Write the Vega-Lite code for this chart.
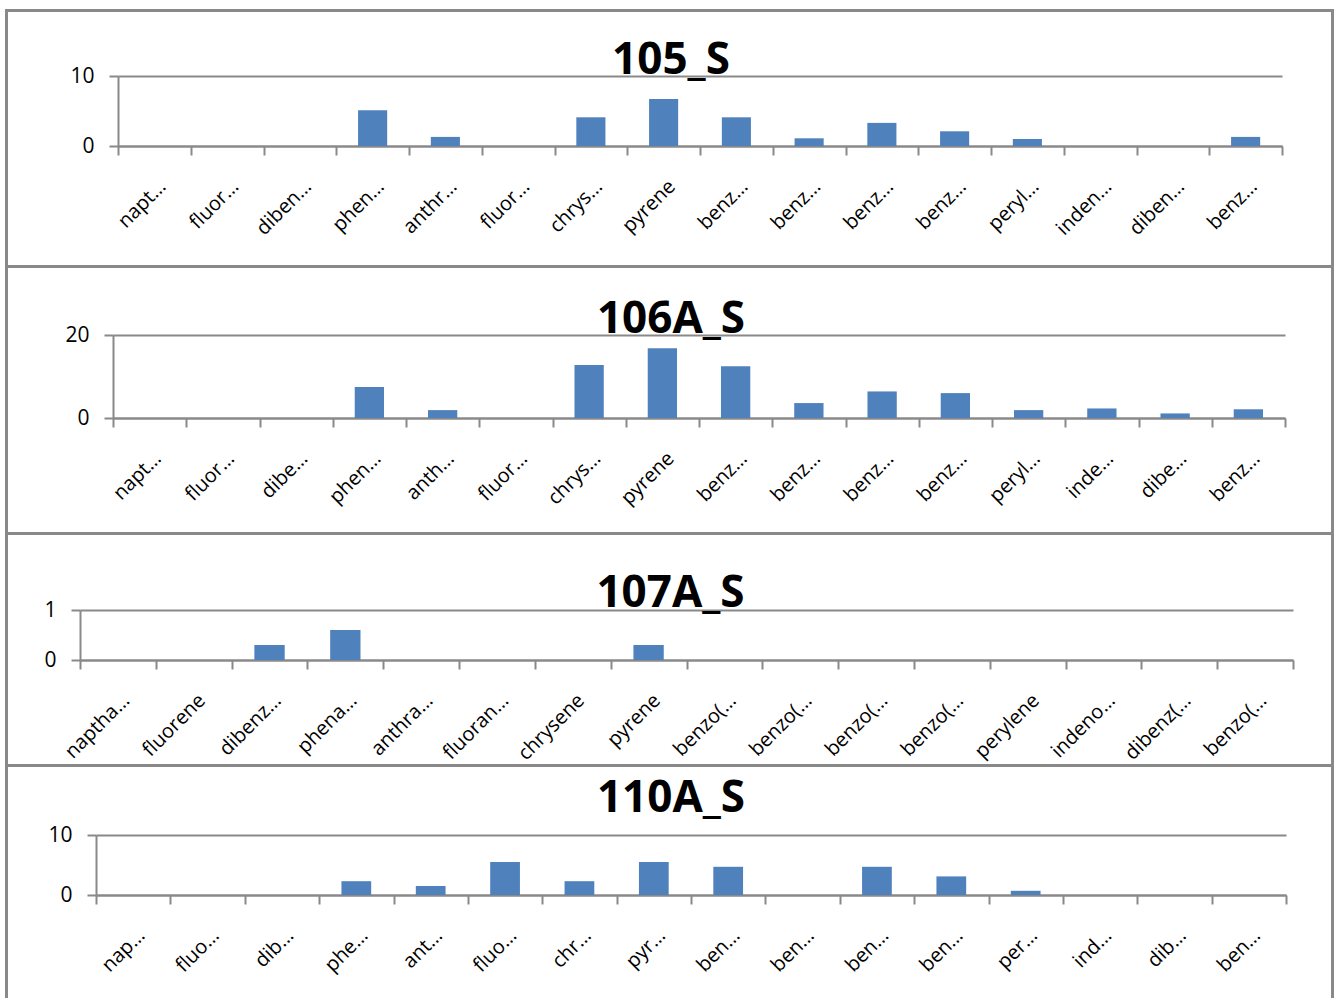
{
  "$schema": "https://vega.github.io/schema/vega-lite/v6.json",
  "padding": {"left": 5, "top": 9, "right": 0, "bottom": 0},
  "background": "white",
  "spacing": 0,
  "config": {
    "view": {"stroke": null},
    "font": "Open Sans",
    "axis": {"domainColor": "#898989", "domainWidth": 2, "tickColor": "#898989", "tickWidth": 2, "gridColor": "#898989", "gridWidth": 2, "labelColor": "#000000", "labelFontSize": 20, "labelFont": "Open Sans", "title": null},
    "axisX": {"labelAngle": -45, "labelAlign": "right", "labelBaseline": "middle", "tickBand": "extent", "tickSize": 9, "labelPadding": 28, "labelOffset": 8, "grid": false, "labelOverlap": false, "labelFlush": false},
    "axisY": {"tickSize": 9, "labelPadding": 15, "grid": true, "labelFontSize": 21, "format": "d"},
    "title": {"font": "Open Sans", "fontSize": 44, "fontWeight": "bold", "color": "#000000", "anchor": "middle", "baseline": "alphabetic"},
    "bar": {"color": "#4F81BD", "width": {"band": 0.4}},
    "scale": {"bandPaddingInner": 0, "bandPaddingOuter": 0},
    "concat": {"spacing": 0}
  },
  "data": {"values": [
    {"sample": "105_S", "compound": "napthalene", "value": 0},
    {"sample": "105_S", "compound": "fluorene", "value": 0},
    {"sample": "105_S", "compound": "dibenzofuran", "value": 0},
    {"sample": "105_S", "compound": "phenanthrene", "value": 5.1},
    {"sample": "105_S", "compound": "anthracene", "value": 1.3},
    {"sample": "105_S", "compound": "fluoranthene", "value": 0},
    {"sample": "105_S", "compound": "chrysene", "value": 4.1},
    {"sample": "105_S", "compound": "pyrene", "value": 6.7},
    {"sample": "105_S", "compound": "benzo(a)anthracene", "value": 4.1},
    {"sample": "105_S", "compound": "benzo(b)fluoranthene", "value": 1.1},
    {"sample": "105_S", "compound": "benzo(k)fluoranthene", "value": 3.3},
    {"sample": "105_S", "compound": "benzo(a)pyrene", "value": 2.1},
    {"sample": "105_S", "compound": "perylene", "value": 1.0},
    {"sample": "105_S", "compound": "indeno(1,2,3-cd)pyrene", "value": 0},
    {"sample": "105_S", "compound": "dibenz(a,h)anthracene", "value": 0},
    {"sample": "105_S", "compound": "benzo(g,h,i)perylene", "value": 1.3},
    {"sample": "106A_S", "compound": "napthalene", "value": 0},
    {"sample": "106A_S", "compound": "fluorene", "value": 0},
    {"sample": "106A_S", "compound": "dibenzofuran", "value": 0},
    {"sample": "106A_S", "compound": "phenanthrene", "value": 7.5},
    {"sample": "106A_S", "compound": "anthracene", "value": 1.9},
    {"sample": "106A_S", "compound": "fluoranthene", "value": 0},
    {"sample": "106A_S", "compound": "chrysene", "value": 12.8},
    {"sample": "106A_S", "compound": "pyrene", "value": 16.8},
    {"sample": "106A_S", "compound": "benzo(a)anthracene", "value": 12.5},
    {"sample": "106A_S", "compound": "benzo(b)fluoranthene", "value": 3.6},
    {"sample": "106A_S", "compound": "benzo(k)fluoranthene", "value": 6.4},
    {"sample": "106A_S", "compound": "benzo(a)pyrene", "value": 6.0},
    {"sample": "106A_S", "compound": "perylene", "value": 1.9},
    {"sample": "106A_S", "compound": "indeno(1,2,3-cd)pyrene", "value": 2.3},
    {"sample": "106A_S", "compound": "dibenz(a,h)anthracene", "value": 1.1},
    {"sample": "106A_S", "compound": "benzo(g,h,i)perylene", "value": 2.1},
    {"sample": "107A_S", "compound": "napthalene", "value": 0},
    {"sample": "107A_S", "compound": "fluorene", "value": 0},
    {"sample": "107A_S", "compound": "dibenzofuran", "value": 0.3},
    {"sample": "107A_S", "compound": "phenanthrene", "value": 0.6},
    {"sample": "107A_S", "compound": "anthracene", "value": 0},
    {"sample": "107A_S", "compound": "fluoranthene", "value": 0},
    {"sample": "107A_S", "compound": "chrysene", "value": 0},
    {"sample": "107A_S", "compound": "pyrene", "value": 0.3},
    {"sample": "107A_S", "compound": "benzo(a)anthracene", "value": 0},
    {"sample": "107A_S", "compound": "benzo(b)fluoranthene", "value": 0},
    {"sample": "107A_S", "compound": "benzo(k)fluoranthene", "value": 0},
    {"sample": "107A_S", "compound": "benzo(a)pyrene", "value": 0},
    {"sample": "107A_S", "compound": "perylene", "value": 0},
    {"sample": "107A_S", "compound": "indeno(1,2,3-cd)pyrene", "value": 0},
    {"sample": "107A_S", "compound": "dibenz(a,h)anthracene", "value": 0},
    {"sample": "107A_S", "compound": "benzo(g,h,i)perylene", "value": 0},
    {"sample": "110A_S", "compound": "napthalene", "value": 0},
    {"sample": "110A_S", "compound": "fluorene", "value": 0},
    {"sample": "110A_S", "compound": "dibenzofuran", "value": 0},
    {"sample": "110A_S", "compound": "phenanthrene", "value": 2.3},
    {"sample": "110A_S", "compound": "anthracene", "value": 1.5},
    {"sample": "110A_S", "compound": "fluoranthene", "value": 5.5},
    {"sample": "110A_S", "compound": "chrysene", "value": 2.3},
    {"sample": "110A_S", "compound": "pyrene", "value": 5.5},
    {"sample": "110A_S", "compound": "benzo(a)anthracene", "value": 4.7},
    {"sample": "110A_S", "compound": "benzo(b)fluoranthene", "value": 0},
    {"sample": "110A_S", "compound": "benzo(k)fluoranthene", "value": 4.7},
    {"sample": "110A_S", "compound": "benzo(a)pyrene", "value": 3.1},
    {"sample": "110A_S", "compound": "perylene", "value": 0.7},
    {"sample": "110A_S", "compound": "indeno(1,2,3-cd)pyrene", "value": 0},
    {"sample": "110A_S", "compound": "dibenz(a,h)anthracene", "value": 0},
    {"sample": "110A_S", "compound": "benzo(g,h,i)perylene", "value": 0}
  ]},
  "hconcat": [
    {"width": 1, "height": 990, "data": {"values": []}, "mark": "point", "encoding": {}, "view": {"stroke": "#898989", "strokeWidth": 2}},
    {"vconcat": [
      {"width": 1321, "height": 1, "data": {"values": []}, "mark": "point", "encoding": {}, "view": {"stroke": "#898989", "strokeWidth": 2}},
      {"width": 1, "height": 27, "data": {"values": []}, "mark": "point", "encoding": {}},
      {"hconcat": [
        {"width": 49, "height": 10, "data": {"values": []}, "mark": "point", "encoding": {}},
        {
        "title": {"text": "105_S", "dx": -29, "offset": -18},
        "width": 1164, "height": 70,
        "transform": [{"filter": "datum.sample === '105_S'"}],
        "mark": {"type": "bar"},
        "encoding": {
          "x": {"field": "compound", "type": "nominal", "sort": null, "axis": {"labelLimit": 69.5, "minExtent": 119, "maxExtent": 119}},
          "y": {"field": "value", "type": "quantitative", "scale": {"domain": [0, 10]}, "axis": {"values": [0, 10], "minExtent": 60, "maxExtent": 60}}
        }
      }]},
      {"width": 1321, "height": 1, "data": {"values": []}, "mark": "point", "encoding": {}, "view": {"stroke": "#898989", "strokeWidth": 2}},
      {"width": 1, "height": 30, "data": {"values": []}, "mark": "point", "encoding": {}},
      {"hconcat": [
        {"width": 44, "height": 10, "data": {"values": []}, "mark": "point", "encoding": {}},
        {
        "title": {"text": "106A_S", "dx": -28, "offset": -18},
        "width": 1172, "height": 83,
        "transform": [{"filter": "datum.sample === '106A_S'"}],
        "mark": {"type": "bar"},
        "encoding": {
          "x": {"field": "compound", "type": "nominal", "sort": null, "axis": {"labelLimit": 65.4, "minExtent": 114, "maxExtent": 114}},
          "y": {"field": "value", "type": "quantitative", "scale": {"domain": [0, 20]}, "axis": {"values": [0, 20], "minExtent": 60, "maxExtent": 60}}
        }
      }]},
      {"width": 1321, "height": 1, "data": {"values": []}, "mark": "point", "encoding": {}, "view": {"stroke": "#898989", "strokeWidth": 2}},
      {"width": 1, "height": 37, "data": {"values": []}, "mark": "point", "encoding": {}},
      {"hconcat": [
        {"width": 11, "height": 10, "data": {"values": []}, "mark": "point", "encoding": {}},
        {
        "title": {"text": "107A_S", "dx": -16, "offset": -17},
        "width": 1213, "height": 50,
        "transform": [{"filter": "datum.sample === '107A_S'"}],
        "mark": {"type": "bar"},
        "encoding": {
          "x": {"field": "compound", "type": "nominal", "sort": null, "axis": {"labelLimit": 86.3, "minExtent": 103, "maxExtent": 103}},
          "y": {"field": "value", "type": "quantitative", "scale": {"domain": [0, 1]}, "axis": {"values": [0, 1], "minExtent": 60, "maxExtent": 60}}
        }
      }]},
      {"width": 1321, "height": 1, "data": {"values": []}, "mark": "point", "encoding": {}, "view": {"stroke": "#898989", "strokeWidth": 2}},
      {"width": 1, "height": 10, "data": {"values": []}, "mark": "point", "encoding": {}},
      {"hconcat": [
        {"width": 27, "height": 10, "data": {"values": []}, "mark": "point", "encoding": {}},
        {
        "title": {"text": "110A_S", "dx": -20, "offset": 3},
        "width": 1190, "height": 60,
        "transform": [{"filter": "datum.sample === '110A_S'"}],
        "mark": {"type": "bar"},
        "encoding": {
          "x": {"field": "compound", "type": "nominal", "sort": null, "axis": {"labelLimit": 53.7, "minExtent": 100, "maxExtent": 100}},
          "y": {"field": "value", "type": "quantitative", "scale": {"domain": [0, 10]}, "axis": {"values": [0, 10], "minExtent": 60, "maxExtent": 60}}
        }
      }]}
    ]},
    {"width": 1, "height": 990, "data": {"values": []}, "mark": "point", "encoding": {}, "view": {"stroke": "#898989", "strokeWidth": 2}}
  ]
}
